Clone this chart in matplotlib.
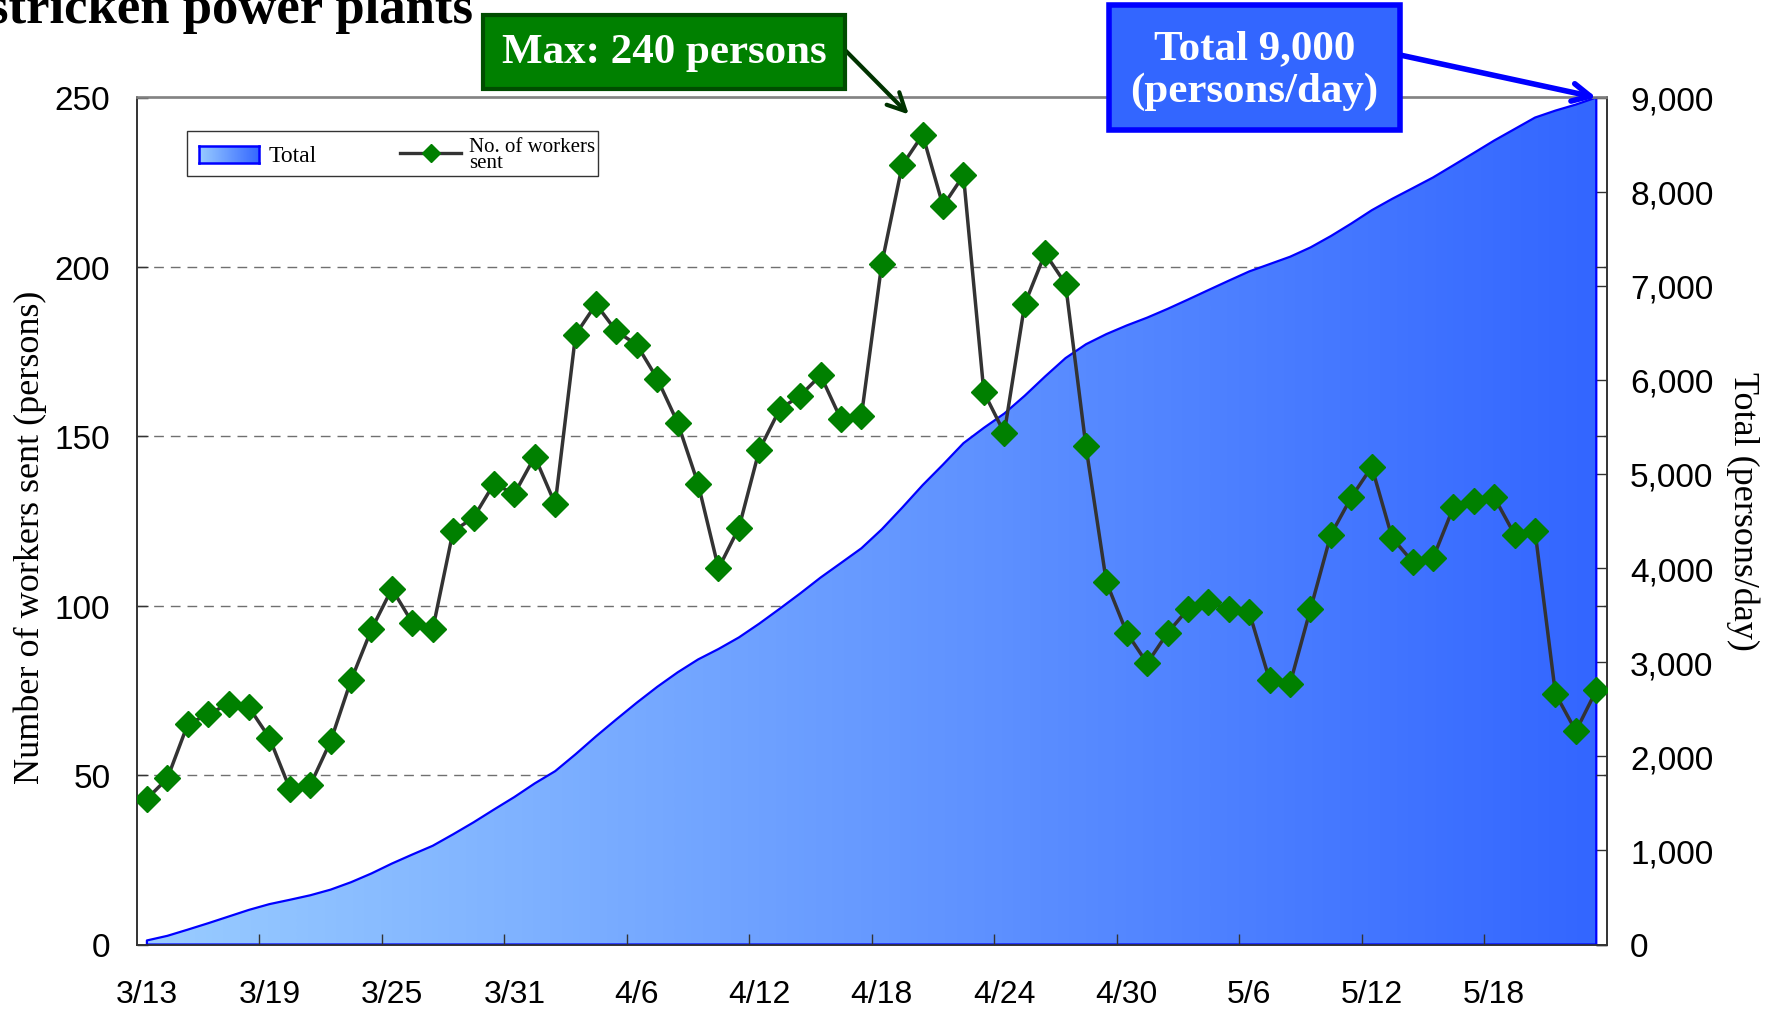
import numpy as np
import matplotlib
matplotlib.use("Agg")
import matplotlib.pyplot as plt
import matplotlib.transforms as mtransforms
from matplotlib.colors import LinearSegmentedColormap
from matplotlib.patches import Rectangle
from matplotlib.lines import Line2D
from matplotlib.ticker import StrMethodFormatter

# ---------------- data ----------------
tick_labels = ['3/13', '3/19', '3/25', '3/31', '4/6', '4/12', '4/18',
               '4/24', '4/30', '5/6', '5/12', '5/18']

# daily number of workers sent, 3/13 .. 5/23
workers = [43, 49, 65, 68, 71, 70, 61, 46, 47, 60,
           78, 93, 105, 95, 93, 122, 126, 136, 133, 144,
           130, 180, 189, 181, 177, 167, 154, 136, 111, 123,
           146, 158, 162, 168, 155, 156, 201, 230, 239, 218,
           227, 163, 151, 189, 204, 195, 147, 107, 92, 83,
           92, 99, 101, 99, 98, 78, 77, 99, 121, 132,
           141, 120, 113, 114, 129, 131, 132, 121, 122, 74,
           63, 75]

# cumulative total (persons/day)
total = [43, 92, 158, 226, 297, 368, 429, 475, 523, 583,
         662, 755, 860, 956, 1049, 1171, 1298, 1434, 1567, 1712,
         1842, 2022, 2212, 2393, 2570, 2738, 2892, 3029, 3140, 3263,
         3410, 3568, 3730, 3899, 4054, 4210, 4412, 4642, 4881, 5100,
         5327, 5490, 5642, 5831, 6036, 6231, 6378, 6486, 6578, 6661,
         6754, 6853, 6954, 7054, 7152, 7230, 7308, 7407, 7528, 7661,
         7802, 7923, 8036, 8150, 8280, 8411, 8543, 8665, 8787, 8861,
         8925, 9000]

left_ticks = [0, 50, 100, 150, 200, 250]
right_ticks = [0, 1000, 2000, 3000, 4000, 5000, 6000, 7000, 8000, 9000]

SANS = ['Liberation Sans', 'DejaVu Sans']
SERIF = ['Liberation Serif', 'DejaVu Serif']

W, H = 1769, 1012
fig = plt.figure(figsize=(W / 100, H / 100), dpi=100)
fig.patch.set_facecolor('white')

ax1 = fig.add_axes([136.7 / W, 1 - 945.5 / H, (1606.5 - 136.7) / W, (945.5 - 98.5) / H])
ax2 = ax1.twinx()
ax1.set_zorder(3)
ax2.set_zorder(2)
ax1.patch.set_visible(False)
ax2.patch.set_visible(False)

n = len(workers)
x = np.arange(n)

# ---- gradient area (total) on right axis ----
cmap = LinearSegmentedColormap.from_list('grad', ['#99CCFF', '#3366FF'])
fb = ax2.fill_between(x, 0, total, facecolor='none', edgecolor='#0000FF',
                      linewidth=1.6, zorder=3)
grad = np.linspace(0, 1, 256).reshape(1, -1)
img = ax2.imshow(grad, extent=[x[0], x[-1], 0, max(total)], origin='lower',
                 aspect='auto', cmap=cmap, zorder=2, interpolation='bilinear')
img.set_clip_path(fb.get_paths()[0], transform=ax2.transData)

# ---- dashed gridlines for left axis (behind area) ----
ax1.set_xlim(-0.5, n - 0.5)
ax1.set_ylim(0, 250)
ax2.set_ylim(0, 9000)
blend = mtransforms.blended_transform_factory(ax2.transAxes, ax1.transData)
for v in left_ticks[1:-1]:
    ax2.add_line(Line2D([0, 1], [v, v], transform=blend, color='#707070',
                        lw=1.0, ls=(0, (7, 5)), zorder=1))

# ---- workers line ----
ax1.plot(x, workers, color='#333333', lw=2.5, marker='D', ms=13.5,
         mfc='#008000', mec='#008000', zorder=4)

ax1.set_xlim(-0.5, n - 0.5)
ax1.set_ylim(0, 250)
ax2.set_xlim(-0.5, n - 0.5)
ax2.set_ylim(0, 9000)

# ---- x ticks: marks at category boundaries, labels at categories ----
label_pos = np.arange(0, 6 * len(tick_labels), 6)
ax1.set_xticks(label_pos[1:] - 0.5)
ax1.set_xticklabels([])
ax1.set_xticks(label_pos, minor=True)
ax1.set_xticklabels(tick_labels, minor=True, fontfamily=SANS)
ax1.tick_params(axis='x', which='major', direction='in', length=8, width=1,
                color='#333333')
ax1.tick_params(axis='x', which='minor', length=0, pad=25, labelsize=23)

# ---- y ticks ----
ax1.set_yticks(left_ticks)
ax1.set_yticklabels([str(v) for v in left_ticks], fontfamily=SANS)
ax1.tick_params(axis='y', direction='in', length=8, width=1, labelsize=24,
                pad=19, left=True, right=True, labelright=False, color='#333333')
ax2.set_yticks(right_ticks)
ax2.yaxis.set_major_formatter(StrMethodFormatter('{x:,.0f}'))
for lab in ax2.get_yticklabels():
    lab.set_fontfamily(SANS)
ax2.tick_params(axis='y', direction='in', length=8, width=1, labelsize=24,
                pad=17, color='#333333')

for a in (ax1, ax2):
    a.spines['top'].set_color('#808080')
    a.spines['left'].set_color('#333333')
    a.spines['right'].set_color('#333333')
    a.spines['bottom'].set_color('#333333')
    for s in a.spines.values():
        s.set_linewidth(1.2)

# ---- manual legend ----
ax1.add_patch(Rectangle((0.0343, 0.9078), 0.2794, 0.0532, transform=ax1.transAxes,
                        facecolor='white', edgecolor='#333333', lw=1.0, zorder=6))
lax = ax1.inset_axes([0.0421, 0.9223, 0.0414, 0.0200])
lax.imshow(grad, aspect='auto', cmap=cmap, extent=[0, 1, 0, 1])
lax.set_xticks([])
lax.set_yticks([])
for s in lax.spines.values():
    s.set_color('#0000FF')
    s.set_linewidth(1.8)
lax.set_zorder(7)
ax1.text(0.0896, 0.9317, 'Total', transform=ax1.transAxes, va='center', ha='left',
         fontsize=17, fontfamily=SERIF, zorder=7)
ax1.add_line(Line2D([0.1794, 0.2208], [0.9343, 0.9343], transform=ax1.transAxes,
                    color='#333333', lw=2.4, zorder=7))
ax1.add_line(Line2D([0.2001], [0.9343], transform=ax1.transAxes, marker='D', ms=9.5,
                    mfc='#008000', mec='#008000', ls='none', zorder=8))
ax1.text(0.2262, 0.9330, 'No. of workers\nsent', transform=ax1.transAxes, va='center',
         ha='left', fontsize=15, fontfamily=SERIF, linespacing=0.8, zorder=7)

# ---- axis labels ----
fig.text(30 / W, 1 - 537 / H, 'Number of workers sent (persons)', rotation=90,
         ha='center', va='center', fontsize=26, fontfamily=SERIF)
fig.text(1743 / W, 1 - 511.6 / H, 'Total (persons/day)', rotation=270,
         ha='center', va='center', fontsize=26, fontfamily=SERIF)

# ---- cut-off title (as in the reference, only its lower part is visible) ----
fig.text(-12 / W, 1 - 23 / H, 'stricken power plants', ha='left', va='baseline',
         fontsize=38, fontweight='bold', fontfamily=SERIF)

# ---- callout boxes ----
fig.add_artist(Rectangle((483 / W, 1 - 90 / H), (845 - 483) / W, 74 / H,
                         transform=fig.transFigure, facecolor='#008000',
                         edgecolor='#004D00', lw=3, zorder=10))
fig.text((483 + 845) / 2 / W, 1 - 53 / H, 'Max: 240 persons', ha='center', va='center',
         color='white', fontsize=31, fontweight='bold', fontfamily=SERIF, zorder=11)

fig.add_artist(Rectangle((1109 / W, 1 - 131 / H), 291 / W, 125 / H,
                         transform=fig.transFigure, facecolor='#3366FF',
                         edgecolor='#0000FF', lw=4, zorder=10))
fig.text(1254.5 / W, 1 - 70.5 / H, 'Total 9,000\n(persons/day)', ha='center',
         va='center', color='white', fontsize=31, fontweight='bold',
         fontfamily=SERIF, linespacing=1.15, zorder=11)

# ---- arrows ----
ax1.annotate('', xy=(37.32, 245), xycoords='data',
             xytext=(845 / W, 1 - 51 / H), textcoords='figure fraction',
             arrowprops=dict(arrowstyle='->', color='#003300', lw=3,
                             mutation_scale=32, shrinkA=0, shrinkB=0),
             annotation_clip=False, zorder=12)
ax1.annotate('', xy=(n - 1, 250), xycoords='data',
             xytext=(1400 / W, 1 - 56 / H), textcoords='figure fraction',
             arrowprops=dict(arrowstyle='->', color='#0000FF', lw=4,
                             mutation_scale=32, shrinkA=0, shrinkB=0),
             annotation_clip=False, zorder=12)

fig.savefig('out.png', dpi=100, facecolor='white')
